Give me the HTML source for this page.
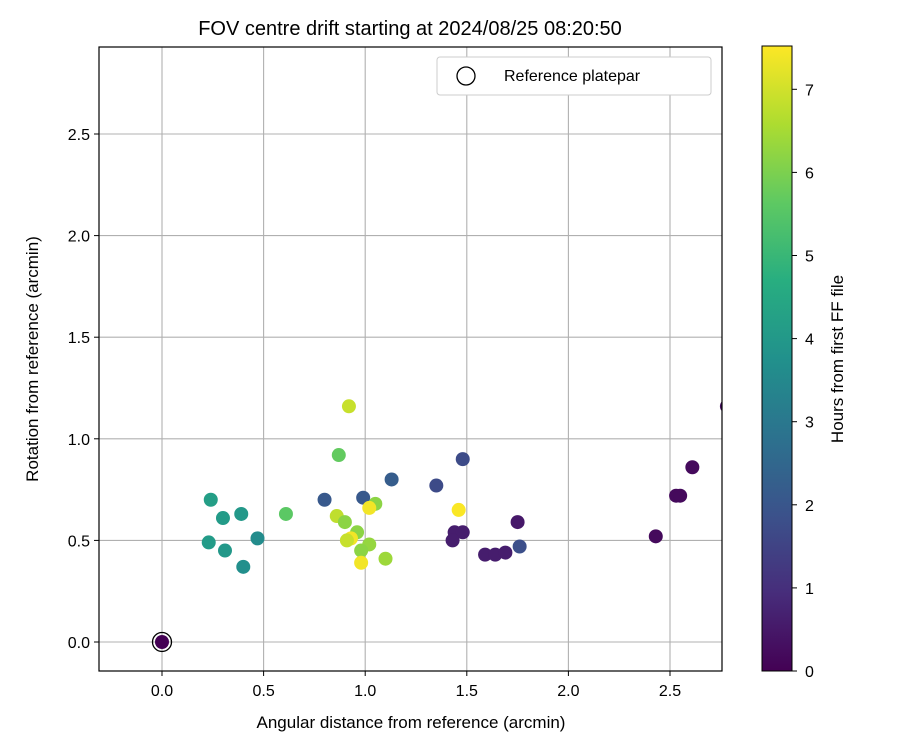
<!DOCTYPE html>
<html><head><meta charset="utf-8"><style>
body{margin:0;background:#fff;}
svg text{font-family:"Liberation Sans","DejaVu Sans",sans-serif;fill:#000;}
</style></head><body>
<svg id="chart" width="900" height="750" xmlns="http://www.w3.org/2000/svg">
<defs>
<clipPath id="pc"><rect x="99" y="47" width="623" height="624"/></clipPath>
<linearGradient id="vir" x1="0" y1="1" x2="0" y2="0">
<stop offset="0" stop-color="#440154"/><stop offset="0.125" stop-color="#472d7b"/><stop offset="0.25" stop-color="#3b528b"/><stop offset="0.375" stop-color="#2c728e"/><stop offset="0.5" stop-color="#21918c"/><stop offset="0.625" stop-color="#28ae80"/><stop offset="0.75" stop-color="#5ec962"/><stop offset="0.875" stop-color="#addc30"/><stop offset="1" stop-color="#fde725"/>
</linearGradient>
</defs>
<text x="410" y="35" font-size="20" text-anchor="middle">FOV centre drift starting at 2024/08/25 08:20:50</text>
<g id="grid"></g>
<g id="pts" clip-path="url(#pc)"></g>
<rect x="99" y="47" width="623" height="624" fill="none" stroke="#000" stroke-width="1.2"/>
<g id="ticks"></g>
<text x="411" y="728" font-size="17" text-anchor="middle">Angular distance from reference (arcmin)</text>
<text transform="translate(38,359) rotate(-90)" font-size="17" text-anchor="middle">Rotation from reference (arcmin)</text>
<g>
<rect x="437" y="57" width="274" height="38" rx="3" fill="#fff" stroke="#ccc"/>
<circle cx="466" cy="76" r="9" fill="none" stroke="#000" stroke-width="1.3"/>
<text x="504" y="81" font-size="16">Reference platepar</text>
</g>
<rect x="762" y="46" width="30" height="625" fill="url(#vir)" stroke="#000" stroke-width="1"/>
<g id="cticks"></g>
<text transform="translate(843,359) rotate(-90)" font-size="17" text-anchor="middle">Hours from first FF file</text>
</svg>
<script>
const xs=[0.24,0.30,0.39,0.23,0.31,0.47,0.40,0.61,0.87,0.92,0.80,0.99,1.13,1.05,1.02,0.86,0.90,0.96,0.93,0.91,1.02,0.98,0.98,1.10,1.48,1.35,1.46,1.44,1.48,1.43,1.59,1.64,1.69,1.75,1.76,2.43,2.53,2.55,2.61,2.78];
const ys=[0.70,0.61,0.63,0.49,0.45,0.51,0.37,0.63,0.92,1.16,0.70,0.71,0.80,0.68,0.66,0.62,0.59,0.54,0.51,0.50,0.48,0.45,0.39,0.41,0.90,0.77,0.65,0.54,0.54,0.50,0.43,0.43,0.44,0.59,0.47,0.52,0.72,0.72,0.86,1.16];
const hours=[4.2,4.1,4.0,4.1,4.0,3.6,3.7,5.6,5.7,6.9,2.1,2.1,2.2,6.2,7.4,6.8,6.2,6.2,7.4,6.9,6.3,6.2,7.4,6.4,1.7,1.7,7.5,0.6,0.6,0.6,0.6,0.6,0.6,0.5,1.8,0.2,0.2,0.2,0.2,0.3];
const xTicks=["0.0","0.5","1.0","1.5","2.0","2.5"];
const yTicks=["0.0","0.5","1.0","1.5","2.0","2.5"];
const cTicks=[0,1,2,3,4,5,6,7];
const X=v=>162+v*203.2, Y=v=>642-v*203.2, C=h=>671-h*83.1;
const vir=["#440154","#472d7b","#3b528b","#2c728e","#21918c","#28ae80","#5ec962","#addc30","#fde725"];
function hx(c){return [1,3,5].map(i=>parseInt(c.substr(i,2),16));}
function col(h){let t=Math.max(0,Math.min(1,h/7.53))*8,i=Math.min(7,Math.floor(t)),f=t-i,a=hx(vir[i]),b=hx(vir[i+1]);return "rgb("+a.map((v,k)=>Math.round(v+(b[k]-v)*f)).join(",")+")";}
const NS="http://www.w3.org/2000/svg";
function mk(tag,attrs,parent,txt){const e=document.createElementNS(NS,tag);for(const k in attrs)e.setAttribute(k,attrs[k]);if(txt!==undefined)e.textContent=txt;parent.appendChild(e);return e;}
const g=document.getElementById('grid'),tk=document.getElementById('ticks'),p=document.getElementById('pts'),ct=document.getElementById('cticks');
xTicks.forEach(t=>{const x=X(parseFloat(t));
const l=mk('line',{x1:x,x2:x,y1:47,y2:671,stroke:'#b0b0b0','stroke-width':1.1},g);


mk('line',{x1:x,x2:x,y1:671,y2:676,stroke:'#000'},tk);
const tx=mk('text',{x:x,y:696,'font-size':16,'text-anchor':'middle'},tk,t);

});
yTicks.forEach(t=>{const y=Y(parseFloat(t));
const l=mk('line',{x1:99,x2:722,y1:y,y2:y,stroke:'#b0b0b0','stroke-width':1.1},g);


mk('line',{x1:94,x2:99,y1:y,y2:y,stroke:'#000'},tk);
const tx=mk('text',{x:90,y:y+6,'font-size':16,'text-anchor':'end'},tk,t);

});
cTicks.forEach(h=>{const y=C(h);
mk('line',{x1:792,x2:797,y1:y,y2:y,stroke:'#000'},ct);
const tx=mk('text',{x:805,y:y+6,'font-size':16},ct,String(h));

});
xs.forEach((v,i)=>{const c=mk('circle',{cx:X(v),cy:Y(ys[i]),r:7,fill:col(hours[i])},p);

});
const r0=mk('circle',{cx:X(0),cy:Y(0),r:7,fill:col(0)},p);


const r1=mk('circle',{cx:X(0),cy:Y(0),r:9.5,fill:'none',stroke:'#000','stroke-width':1.3},p);


</script>
</body></html>
